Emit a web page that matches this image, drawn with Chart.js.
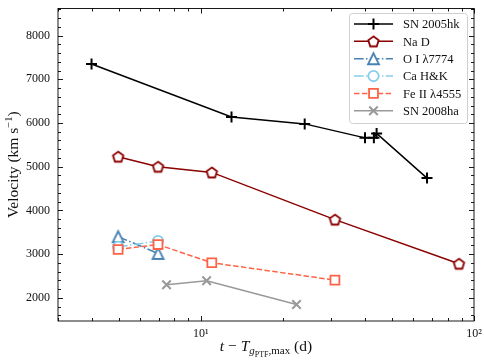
<!DOCTYPE html>
<html>
<head>
<meta charset="utf-8">
<script src="https://cdn.jsdelivr.net/npm/chart.js@4/dist/chart.umd.min.js"></script>
<style>
  html, body { margin: 0; padding: 0; background: #fff; }
  #wrap { width: 484px; height: 363px; }
</style>
</head>
<body>
<div id="wrap"><canvas id="velChart" width="484" height="363"></canvas></div>
<script>
// data (days since g-band max, velocity in km/s)
const t05hk = [3.98, 12.95, 24.0, 39.9, 43.0, 44.0, 67.3];
const v05hk = [7350, 6140, 5980, 5660, 5660, 5760, 4740];
const tNaD = [4.98, 6.97, 10.97, 30.97, 88.1];
const vNaD = [5230, 5000, 4870, 3790, 2780];
const tOI = [4.98, 6.97];
const vOI = [3400, 3016];
const tCa = [4.98, 6.97];
const vCa = [3165, 3300];
const tFe = [4.98, 6.97, 10.97, 30.97];
const vFe = [3106, 3219, 2803, 2405];
const t08ha = [7.49, 10.5, 22.4];
const v08ha = [2300, 2390, 1846];

const xMajor = [10, 100];
const xMinor = [3, 4, 5, 6, 7, 8, 9, 20, 30, 40, 50, 60, 70, 80, 90];
const yMajor = [2000, 3000, 4000, 5000, 6000, 7000, 8000];
const xLabels = { 10: '10\u00B9', 100: '10\u00B2' };

const SERIF = "'Liberation Serif', 'DejaVu Serif', serif";

const pts = (xs, ys) => xs.map((x, i) => ({ x: x, y: ys[i] }));

// matplotlib-like open markers that chart.js lacks
function makeMarker(kind, color, size, lw) {
    const pad = Math.ceil(lw) + 1;
    const c = document.createElement('canvas');
    c.width = c.height = size + 2 * pad;
    const g = c.getContext('2d');
    const cx = c.width / 2, cy = c.height / 2, r = size / 2;
    g.beginPath();
    if (kind === 'pentagon') {
        for (let i = 0; i < 5; i++) {
            const a = -Math.PI / 2 + i * 2 * Math.PI / 5;
            const px = cx + r * Math.cos(a), py = cy + r * Math.sin(a) + r * 0.1;
            i ? g.lineTo(px, py) : g.moveTo(px, py);
        }
    } else { // triangle up, as in matplotlib '^'
        g.moveTo(cx, cy - r);
        g.lineTo(cx - r, cy + r);
        g.lineTo(cx + r, cy + r);
    }
    g.closePath();
    g.fillStyle = '#fff';
    g.fill();
    g.lineWidth = lw;
    g.lineJoin = 'miter';
    g.strokeStyle = color;
    g.stroke();
    return c;
}

const pentagon = makeMarker('pentagon', '#8b0000', 11, 1.8);
const triangle = makeMarker('triangle', '#4682b4', 11, 1.8);

const datasets = [
    { label: 'SN 2005hk', data: pts(t05hk, v05hk), borderColor: '#000', backgroundColor: '#000',
      borderWidth: 1.5, pointStyle: 'cross', pointRadius: 5.5, pointBorderWidth: 2 },
    { label: 'Na D', data: pts(tNaD, vNaD), borderColor: '#8b0000', backgroundColor: '#fff',
      borderWidth: 1.5, pointStyle: pentagon, pointRadius: 7 },
    { label: 'O I \u03BB7774', data: pts(tOI, vOI), borderColor: '#4682b4', backgroundColor: '#fff',
      borderWidth: 1.5, borderDash: [9.6, 2.4, 1.5, 2.4], pointStyle: triangle, pointRadius: 7 },
    { label: 'Ca H&K', data: pts(tCa, vCa), borderColor: '#87ceeb', backgroundColor: '#fff',
      borderWidth: 1.5, borderDash: [9.6, 2.4, 1.5, 2.4], pointStyle: 'circle', pointRadius: 5.2, pointBorderWidth: 1.8 },
    { label: 'Fe II \u03BB4555', data: pts(tFe, vFe), borderColor: '#ff6347', backgroundColor: '#fff',
      borderWidth: 1.5, borderDash: [5.5, 2.4], pointStyle: 'rect', pointRadius: 6.3, pointBorderWidth: 1.8 },
    { label: 'SN 2008ha', data: pts(t08ha, v08ha), borderColor: '#999', backgroundColor: '#999',
      borderWidth: 1.5, pointStyle: 'crossRot', pointRadius: 6, pointBorderWidth: 2 }
];
// later series sit on top, as in the original plot
datasets.forEach((d, i) => { d.order = 10 - i; d.fill = false; d.tension = 0; d.pointHoverRadius = d.pointRadius; });

function drawRich(ctx, parts, cx, baseline) {
    let total = 0;
    parts.forEach(p => { ctx.font = p.font; p.w = ctx.measureText(p.text).width; total += p.w; });
    let x = cx - total / 2;
    ctx.textAlign = 'left';
    ctx.textBaseline = 'alphabetic';
    parts.forEach(p => { ctx.font = p.font; ctx.fillText(p.text, x, baseline + (p.dy || 0)); x += p.w; });
}

const framePlugin = {
    id: 'framePlugin',
    afterDraw(chart) {
        const { ctx, chartArea: a, scales: { x, y } } = chart;
        ctx.save();
        ctx.strokeStyle = '#000';
        ctx.lineWidth = 0.9;
        ctx.strokeRect(a.left, a.top, a.right - a.left, a.bottom - a.top);

        const tick = (px, py, dx, dy) => { ctx.moveTo(px, py); ctx.lineTo(px + dx, py + dy); };
        ctx.beginPath();
        xMajor.forEach(v => { const p = Math.round(x.getPixelForValue(v)) + 0.5; tick(p, a.bottom, 0, -5); tick(p, a.top, 0, 5); });
        xMinor.forEach(v => { const p = Math.round(x.getPixelForValue(v)) + 0.5; tick(p, a.bottom, 0, -3); tick(p, a.top, 0, 3); });
        for (let v = 1600; v <= 8600; v += 200) {
            const p = Math.round(y.getPixelForValue(v)) + 0.5;
            const len = v % 1000 === 0 ? 5 : 3;
            tick(a.left, p, len, 0); tick(a.right, p, -len, 0);
        }
        ctx.stroke();

        // axis titles
        ctx.fillStyle = '#111';
        drawRich(ctx, [
            { text: 't', font: 'italic 15.5px ' + SERIF },
            { text: ' \u2212 ', font: '15.5px ' + SERIF },
            { text: 'T', font: 'italic 15.5px ' + SERIF },
            { text: 'g', font: 'italic 11px ' + SERIF, dy: 3 },
            { text: 'PTF', font: '8px ' + SERIF, dy: 5.5 },
            { text: ',max', font: '11px ' + SERIF, dy: 3 },
            { text: ' (d)', font: '15.5px ' + SERIF }
        ], (a.left + a.right) / 2, 351);

        ctx.save();
        ctx.translate(18, (a.top + a.bottom) / 2);
        ctx.rotate(-Math.PI / 2);
        drawRich(ctx, [
            { text: 'Velocity (km s', font: '15.5px ' + SERIF },
            { text: '\u22121', font: '10.5px ' + SERIF, dy: -6 },
            { text: ')', font: '15.5px ' + SERIF }
        ], 0, 0);
        ctx.restore();

        // legend box in the upper right corner
        const bx = 349.5, by = 13.5, bw = 118, bh = 110;
        ctx.beginPath();
        ctx.roundRect(bx, by, bw, bh, 3);
        ctx.fillStyle = 'rgba(255,255,255,0.8)';
        ctx.fill();
        ctx.strokeStyle = '#d0d0d0';
        ctx.lineWidth = 1;
        ctx.stroke();

        chart.data.datasets.forEach((d, i) => {
            const ry = 24 + i * 17.35;
            ctx.save();
            ctx.strokeStyle = d.borderColor;
            ctx.lineWidth = d.borderWidth;
            ctx.setLineDash(d.borderDash || []);
            ctx.beginPath();
            ctx.moveTo(354, ry);
            ctx.lineTo(393, ry);
            ctx.stroke();
            ctx.setLineDash([]);
            if (typeof d.pointStyle === 'string') {
                ctx.strokeStyle = d.borderColor;
                ctx.fillStyle = d.backgroundColor;
                ctx.lineWidth = d.pointBorderWidth;
                Chart.helpers.drawPoint(ctx, { pointStyle: d.pointStyle, radius: d.pointRadius, rotation: 0, borderWidth: d.pointBorderWidth }, 373.5, ry);
            } else {
                const img = d.pointStyle;
                ctx.drawImage(img, 373.5 - img.width / 2, ry - img.height / 2);
            }
            ctx.restore();
            ctx.fillStyle = '#111';
            ctx.font = '12.5px ' + SERIF;
            ctx.textAlign = 'left';
            ctx.textBaseline = 'middle';
            ctx.fillText(d.label, 403, ry + 1);
        });
        ctx.restore();
    }
};

new Chart(document.getElementById('velChart'), {
    type: 'line',
    data: { datasets: datasets },
    options: {
        responsive: false,
        animation: false,
        layout: { padding: { left: 0, right: 10, top: 4, bottom: 0 } },
        plugins: { legend: { display: false }, tooltip: { enabled: false } },
        scales: {
            x: {
                type: 'logarithmic',
                min: 3, max: 100,
                grid: { display: false, drawTicks: false },
                border: { display: false },
                afterBuildTicks: s => { s.ticks = xMajor.map(v => ({ value: v })); },
                afterFit: s => { s.height = 42; s.paddingLeft = 0; s.paddingRight = 0; },
                ticks: {
                    padding: 6,
                    color: '#111',
                    font: { family: SERIF, size: 12 },
                    maxRotation: 0,
                    callback: v => xLabels[v] || ''
                }
            },
            y: {
                type: 'linear',
                min: 1470, max: 8620,
                grid: { display: false, drawTicks: false },
                border: { display: false },
                afterBuildTicks: s => { s.ticks = yMajor.map(v => ({ value: v })); },
                afterFit: s => { s.width = 58; s.paddingTop = 0; s.paddingBottom = 0; },
                ticks: {
                    padding: 8,
                    color: '#111',
                    font: { family: SERIF, size: 12 },
                    callback: v => String(v)
                }
            }
        }
    },
    plugins: [framePlugin]
});
</script>
</body>
</html>
